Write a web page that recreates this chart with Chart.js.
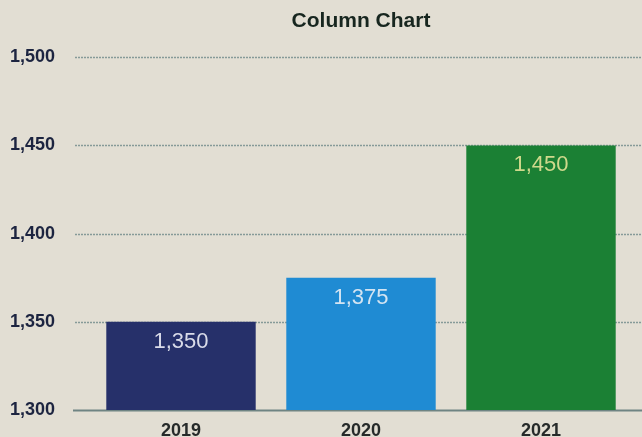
<!DOCTYPE html>
<html lang="en">
<head>
    <meta charset="UTF-8">
    <title>Column Chart</title>
    <script src="https://cdn.jsdelivr.net/npm/chart.js@4.4.1/dist/chart.umd.min.js"></script>
    <style>
        *{margin:0; padding:0;}
        body{background:#e2ded3;}
        #wrap{width:642px; height:437px; position:relative;}
    </style>
</head>
<body>
    <div id="wrap">
        <canvas id="columnChart"></canvas>
    </div>

    <script>
        const years = ['2019', '2020', '2021']
        const values = [1350, 1375, 1450]
        const yTicks = [1300, 1350, 1400, 1450, 1500]

        const barColors = ['#26306a', '#1f8bd3', '#1b8034']
        const labelColors = ['#d9dbe9', '#d3e4f2', '#cfd98c']
        const fontFamily = '"Liberation Sans", Arial, sans-serif'

        const fmt = v => v.toLocaleString('en-US')

        // dotted gridlines running past the chart area, plus the solid baseline
        const gridPlugin = {
            id:'paperGrid',
            beforeDatasetsDraw(chart){
                const ctx = chart.ctx
                const y = chart.scales.y
                const w = chart.width
                ctx.save()
                yTicks.forEach(function(t){
                    const py = Math.round(y.getPixelForValue(t)) + 0.5
                    if(t === yTicks[0]){
                        ctx.setLineDash([])
                        ctx.strokeStyle = '#6f8483'
                        ctx.lineWidth = 2
                        ctx.beginPath()
                        ctx.moveTo(73, py)
                        ctx.lineTo(w, py)
                        ctx.stroke()
                    } else {
                        ctx.setLineDash([2, 1])
                        ctx.strokeStyle = '#869a98'
                        ctx.lineWidth = 1.5
                        ctx.beginPath()
                        ctx.moveTo(75, py)
                        ctx.lineTo(w, py)
                        ctx.stroke()
                    }
                })
                ctx.restore()
            }
        }

        const valueLabels = {
            id:'valueLabels',
            afterDatasetsDraw(chart){
                const ctx = chart.ctx
                const meta = chart.getDatasetMeta(0)
                ctx.save()
                ctx.font = '22px ' + fontFamily
                ctx.textAlign = 'center'
                ctx.textBaseline = 'middle'
                meta.data.forEach(function(bar, i){
                    ctx.fillStyle = labelColors[i]
                    ctx.fillText(fmt(values[i]), bar.x, bar.y + 20)
                })
                ctx.restore()
            }
        }

        const config = {
            type:'bar',
            data:{
                labels:years,
                datasets:[{
                    data:values,
                    backgroundColor:barColors,
                    borderWidth:0,
                    categoryPercentage:1,
                    barPercentage:0.83
                }]
            },
            options:{
                responsive:true,
                maintainAspectRatio:false,
                animation:false,
                layout:{padding:{left:10, right:11, top:0, bottom:0}},
                plugins:{
                    legend:{display:false},
                    tooltip:{enabled:false},
                    title:{
                        display:true,
                        text:'Column Chart',
                        fullSize:false,
                        color:'#17261f',
                        font:{family:fontFamily, size:21, weight:'bold'},
                        padding:{top:9, bottom:23}
                    }
                },
                scales:{
                    x:{
                        grid:{display:false},
                        border:{display:false},
                        ticks:{
                            color:'#262a2a',
                            padding:2,
                            font:{family:fontFamily, size:18, weight:'bold'}
                        },
                        afterFit(scale){ scale.height = 27 }
                    },
                    y:{
                        min:1300,
                        max:1500,
                        grid:{display:false},
                        border:{display:false},
                        afterBuildTicks(scale){
                            scale.ticks = yTicks.map(v => ({value:v}))
                        },
                        ticks:{
                            color:'#1c2440',
                            crossAlign:'far',
                            font:{family:fontFamily, size:18, weight:'bold'},
                            callback:v => fmt(v)
                        },
                        afterFit(scale){ scale.width = 81 }
                    }
                }
            },
            plugins:[gridPlugin, valueLabels]
        }

        new Chart(document.querySelector('#columnChart'), config)
    </script>
</body>
</html>
